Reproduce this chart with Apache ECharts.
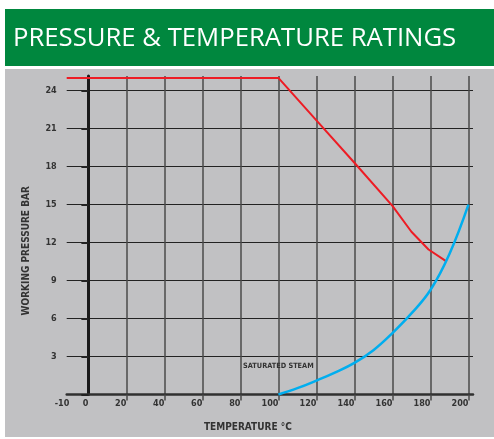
<!DOCTYPE html>
<html>
<head>
<meta charset="utf-8">
<script src="https://cdn.jsdelivr.net/npm/echarts@6/dist/echarts.min.js"></script>
<style>
html, body { margin: 0; padding: 0; background: #ffffff; }
#chart { width: 494px; height: 439px; }
</style>
</head>
<body>
<div id="chart"></div>
<script>
// Temperature axis (°C)
const tempLabels = [-10, 0, 20, 40, 60, 80, 100, 120, 140, 160, 180, 200];
const tempGridLines = [20, 40, 60, 80, 100, 120, 140, 160, 180, 200];
const tempMin = -11.4;
const tempMax = 202.4;

// Pressure axis (bar)
const pressureTicks = [0, 3, 6, 9, 12, 15, 18, 21, 24];
const pressureLabels = [3, 6, 9, 12, 15, 18, 21, 24];
const pressureMax = 25.15;

// Maximum working pressure rating
const ratingTemp = [-11.4, 100, 120, 140, 160, 170, 179, 188];
const ratingPressure = [25, 25, 21.65, 18.3, 14.9, 12.85, 11.45, 10.55];

// Saturated steam curve
const steamTemp = [100, 110, 120, 130, 140, 150, 160, 170, 180, 190, 200];
const steamPressure = [0, 0.5, 1.1, 1.75, 2.5, 3.5, 4.85, 6.4, 8.25, 11.1, 15];

const labelFont = "'DejaVu Sans Condensed', 'Liberation Sans Narrow', sans-serif";

const chart = echarts.init(document.getElementById('chart'), null, { renderer: 'canvas' });

chart.setOption({
  animation: false,
  backgroundColor: '#ffffff',
  graphic: [
    { type: 'rect', z: -10, shape: { x: 5, y: 9, width: 489, height: 57 }, style: { fill: '#00873e' } },
    { type: 'rect', z: -10, shape: { x: 5, y: 69, width: 489, height: 368 }, style: { fill: '#c1c1c3' } }
  ],
  title: {
    text: 'PRESSURE & TEMPERATURE RATINGS',
    left: 13,
    top: 26,
    padding: 0,
    textStyle: {
      color: '#ffffff',
      fontFamily: "'Open Sans', sans-serif",
      fontWeight: 'normal',
      fontSize: 25.7
    }
  },
  grid: { left: 66.7, right: 21, top: 76, bottom: 44.5, outerBoundsMode: 'none', containLabel: false },
  xAxis: {
    type: 'value',
    min: tempMin,
    max: tempMax,
    name: 'TEMPERATURE °C',
    nameLocation: 'middle',
    nameGap: 28,
    nameTextStyle: {
      color: '#333333',
      fontFamily: labelFont,
      fontWeight: 'bold',
      fontSize: 10,
      padding: [0, 44, 0, 0]
    },
    axisLine: { onZero: true, lineStyle: { color: '#303030', width: 2.5 } },
    axisTick: {
      show: true,
      customValues: tempGridLines,
      length: 6,
      lineStyle: { color: '#4a4a4a', width: 1.5 }
    },
    axisLabel: {
      customValues: tempLabels,
      align: 'right',
      margin: 5,
      color: '#333333',
      fontFamily: labelFont,
      fontWeight: 'bold',
      fontSize: 9
    },
    splitLine: { show: true, lineStyle: { color: '#4a4a4a', width: 1.5 } }
  },
  yAxis: {
    type: 'value',
    min: 0,
    max: pressureMax,
    name: 'WORKING PRESSURE BAR',
    nameLocation: 'middle',
    nameGap: 35,
    nameRotate: 90,
    nameTextStyle: {
      color: '#333333',
      fontFamily: labelFont,
      fontWeight: 'bold',
      fontSize: 10,
      padding: [0, 31, 0, 0]
    },
    axisLine: { onZero: true, lineStyle: { color: '#1a1a1a', width: 3 } },
    axisTick: {
      show: true,
      customValues: pressureTicks,
      length: 7,
      lineStyle: { color: '#222222', width: 2 }
    },
    axisLabel: {
      customValues: pressureLabels,
      margin: 10,
      color: '#333333',
      fontFamily: labelFont,
      fontWeight: 'bold',
      fontSize: 9
    },
    splitLine: { show: true, lineStyle: { color: '#222222', width: 1.2 } }
  },
  series: [
    {
      name: 'Rating',
      type: 'line',
      data: ratingTemp.map((t, i) => [t, ratingPressure[i]]),
      symbol: 'none',
      lineStyle: { color: '#ed1c24', width: 2 },
      z: 3
    },
    {
      name: 'Saturated steam',
      type: 'line',
      data: steamTemp.map((t, i) => [t, steamPressure[i]]),
      symbol: 'none',
      smooth: 0.4,
      lineStyle: { color: '#00aeef', width: 2.5 },
      z: 3,
      markPoint: {
        symbol: 'circle',
        symbolSize: 0,
        silent: true,
        itemStyle: { color: 'transparent' },
        data: [{
          coord: [100, 2.27],
          label: {
            show: true,
            position: 'inside',
            formatter: 'SATURATED STEAM',
            color: '#333333',
            fontFamily: labelFont,
            fontWeight: 'bold',
            fontSize: 7.3
          }
        }]
      }
    }
  ]
});
</script>
</body>
</html>
